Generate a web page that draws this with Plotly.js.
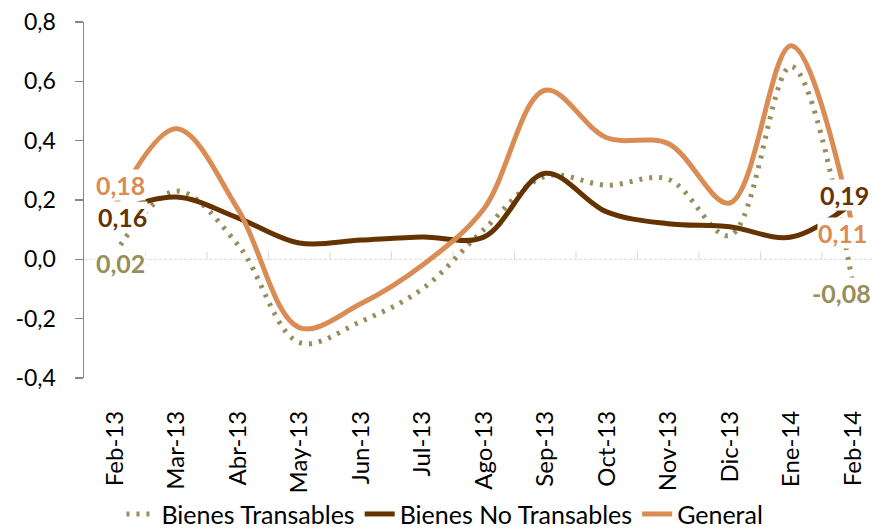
<!DOCTYPE html>
<html>
<head>
<meta charset="utf-8">
<script src="https://cdn.plot.ly/plotly-3.0.1.min.js"></script>
<style>html,body{margin:0;padding:0;background:#fff;}#chart{width:873px;height:531px;}</style>
</head>
<body>
<div id="chart"></div>
<script>
// ---- data ----
const categories = ['Feb-13','Mar-13','Abr-13','May-13','Jun-13','Jul-13','Ago-13','Sep-13','Oct-13','Nov-13','Dic-13','Ene-14','Feb-14'];
const transables   = [0.02, 0.23, 0.05, -0.28, -0.21, -0.10, 0.10, 0.28, 0.25, 0.27, 0.08, 0.65, -0.08];
const noTransables = [0.16, 0.21, 0.14, 0.055, 0.065, 0.075, 0.075, 0.29, 0.16, 0.12, 0.11, 0.075, 0.19];
const general      = [0.18, 0.44, 0.17, -0.23, -0.15, -0.02, 0.17, 0.57, 0.41, 0.39, 0.19, 0.72, 0.11];
const seriesNames  = ['Bienes Transables', 'Bienes No Transables', 'General'];
const yTickVals    = [-0.4, -0.2, 0.0, 0.2, 0.4, 0.6, 0.8];
const yTickText    = ['-0,4', '-0,2', '0,0', '0,2', '0,4', '0,6', '0,8'];

const colTrans = '#978E5A', colNoTrans = '#653300', colGeneral = '#DA8C55';
const FONT = 'Lato, "Open Sans", sans-serif';
const xIdx = categories.map((_, i) => i);

function fmt(v){ return (v < 0 ? '-' : '') + Math.abs(v).toFixed(2).replace('.', ','); }

const traces = [
  {x: xIdx, y: transables, name: seriesNames[0], type: 'scatter', mode: 'lines',
   line: {color: colTrans, width: 5, dash: '3px,7px', shape: 'spline', smoothing: 1}},
  {x: xIdx, y: noTransables, name: seriesNames[1], type: 'scatter', mode: 'lines',
   line: {color: colNoTrans, width: 5, shape: 'spline', smoothing: 1}},
  {x: xIdx, y: general, name: seriesNames[2], type: 'scatter', mode: 'lines',
   line: {color: colGeneral, width: 5, shape: 'spline', smoothing: 1}}
];

const last = categories.length - 1;
function lab(i, v, color, xs, ys){
  return {x: i, y: v, xref: 'x', yref: 'y', text: '<b>' + fmt(v) + '</b>', showarrow: false,
    font: {family: FONT, size: 25, color: color}, bgcolor: 'rgba(255,255,255,1)',
    xshift: xs, yshift: ys, borderpad: 0};
}
const annotations = [
  lab(0, general[0], colGeneral, 6, 21),
  lab(0, noTransables[0], colNoTrans, 8, -5),
  lab(0, transables[0], colTrans, 6, -10),
  lab(last, noTransables[last], colNoTrans, -8, 8),
  lab(last, general[last], colGeneral, -10, -6),
  lab(last, transables[last], colTrans, -11, -10)
];

const shapes = [
  {type: 'line', xref: 'paper', yref: 'y', x0: 0, x1: 1, y0: 0, y1: 0,
   line: {color: '#D9D9D9', width: 1, dash: '3px,2px'}, layer: 'below'}
];
for (let i = 0; i < categories.length; i++) {
  shapes.push({type: 'line', xref: 'x', yref: 'y', x0: i + 0.5, x1: i + 0.5, y0: 0, y1: 0.027,
    line: {color: '#D9D9D9', width: 1}, layer: 'below'});
}

const layout = {
  width: 873, height: 531,
  margin: {l: 84, r: 0, t: 22, b: 153, autoexpand: false},
  paper_bgcolor: '#fff', plot_bgcolor: '#fff',
  font: {family: FONT, color: '#000'},
  showlegend: true,
  legend: {orientation: 'h', x: 0.4575, xanchor: 'center', y: -0.318, yanchor: 'top',
    bgcolor: 'rgba(0,0,0,0)',
    font: {family: FONT, size: 25, color: '#000'}, itemgap: 14, traceorder: 'normal'},
  xaxis: {range: [-0.5, 12.33], tickmode: 'array', tickvals: xIdx, ticktext: categories,
    tickangle: -90, showgrid: false, zeroline: false, showline: false, ticks: '',
    tickfont: {family: FONT, size: 24, color: '#000'}, ticklabelstandoff: 27, fixedrange: true},
  yaxis: {range: [-0.4, 0.8], tickmode: 'array', tickvals: yTickVals, ticktext: yTickText,
    showgrid: false, zeroline: false, showline: true, linecolor: '#868686', linewidth: 1.5,
    ticks: 'outside', ticklen: 8, tickcolor: '#868686', tickwidth: 1.5,
    tickfont: {family: FONT, size: 23, color: '#000'}, ticklabelstandoff: 14, fixedrange: true},
  annotations: annotations,
  shapes: shapes
};

Plotly.newPlot('chart', traces, layout, {displayModeBar: false, staticPlot: true});
</script>
</body>
</html>
